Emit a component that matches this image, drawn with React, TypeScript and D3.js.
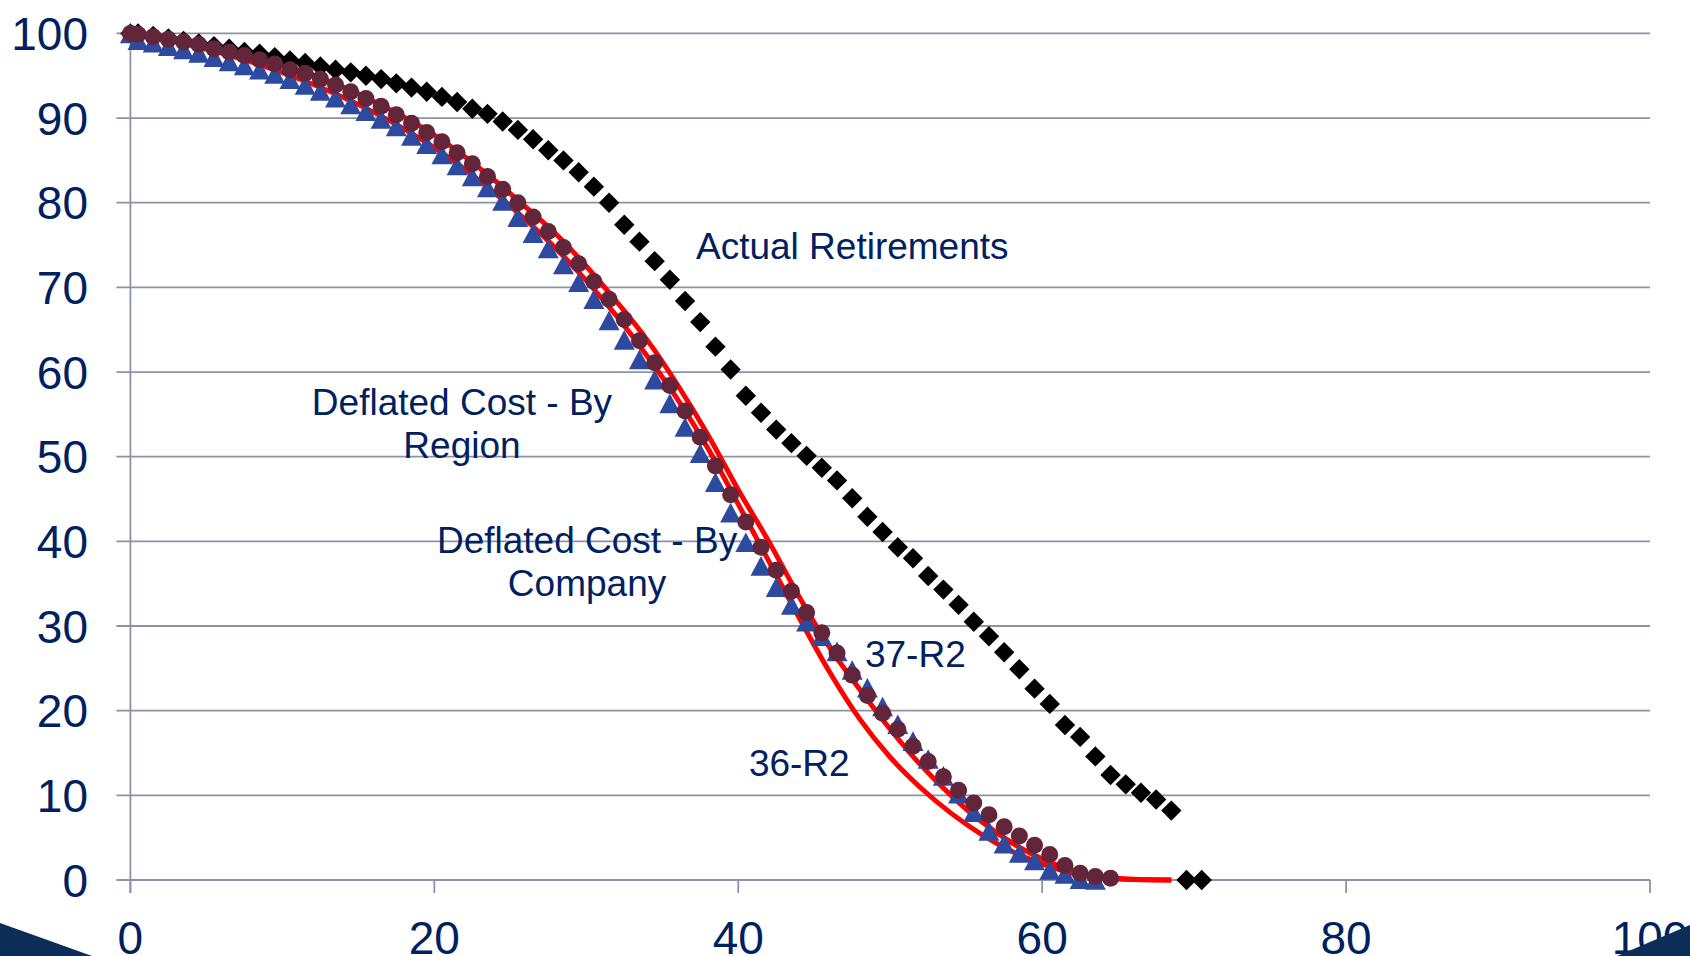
import React from "react";
import * as d3 from "d3";

const W = 1690;
const H = 956;

// Age points (years) for the marker series
const markerAges = [
  0, 0.5, 1.5, 2.5, 3.5, 4.5, 5.5, 6.5, 7.5, 8.5, 9.5, 10.5, 11.5, 12.5, 13.5, 14.5, 15.5, 16.5, 17.5, 18.5,
  19.5, 20.5, 21.5, 22.5, 23.5, 24.5, 25.5, 26.5, 27.5, 28.5, 29.5, 30.5, 31.5, 32.5, 33.5, 34.5, 35.5, 36.5,
  37.5, 38.5, 39.5, 40.5, 41.5, 42.5, 43.5, 44.5, 45.5, 46.5, 47.5, 48.5, 49.5, 50.5, 51.5, 52.5, 53.5, 54.5,
  55.5, 56.5, 57.5, 58.5, 59.5, 60.5, 61.5, 62.5, 63.5, 64.5, 65.5, 66.5, 67.5, 68.5, 69.5, 70.5,
];

// Actual Retirements (black diamonds)
const actualRetirements = [
  100, 100, 99.7, 99.4, 99.1, 98.8, 98.5, 98.2, 97.8, 97.6, 97.2, 96.8, 96.5, 96.1, 95.7, 95.4, 95.0, 94.6, 94.1,
  93.6, 93.1, 92.5, 91.9, 91.1, 90.5, 89.6, 88.6, 87.5, 86.2, 85.0, 83.6, 81.9, 80.0, 77.4, 75.4, 73.1, 70.9,
  68.4, 65.9, 63.0, 60.3, 57.2, 55.2, 53.2, 51.6, 50.1, 48.7, 47.2, 45.1, 42.9, 41.1, 39.3, 38.0, 35.9, 34.3,
  32.5, 30.5, 28.8, 26.9, 24.9, 22.6, 20.8, 18.3, 16.9, 14.6, 12.4, 11.3, 10.3, 9.5, 8.2, 0, 0,
];

// Deflated Cost - By Region (maroon circles)
const byRegion = [
  100, 99.9, 99.6, 99.3, 99.0, 98.7, 98.2, 97.8, 97.4, 96.9, 96.4, 95.7, 95.3, 94.6, 93.9, 93.1, 92.3, 91.4,
  90.4, 89.4, 88.3, 87.2, 85.9, 84.6, 83.1, 81.6, 80.0, 78.3, 76.6, 74.7, 72.8, 70.7, 68.6, 66.2, 63.7, 61.1,
  58.4, 55.4, 52.3, 48.9, 45.5, 42.3, 39.3, 36.6, 34.1, 31.6, 29.2, 26.8, 24.2, 21.8, 19.7, 17.8, 15.8, 14.0,
  12.2, 10.6, 9.1, 7.7, 6.3, 5.2, 4.1, 3.0, 1.7, 0.8, 0.4, 0.2,
];

// Deflated Cost - By Company (blue triangles)
const byCompany = [
  100, 99.2, 98.9, 98.5, 98.1, 97.7, 97.2, 96.7, 96.2, 95.7, 95.2, 94.6, 93.9, 93.2, 92.4, 91.6, 90.8, 89.9,
  89.0, 87.9, 86.9, 85.7, 84.4, 83.1, 81.8, 80.2, 78.3, 76.4, 74.6, 72.7, 70.6, 68.6, 66.1, 63.8, 61.5, 59.1,
  56.3, 53.5, 50.4, 47.0, 43.4, 39.9, 37.1, 34.6, 32.5, 30.5, 28.8, 27.0, 24.8, 22.7, 20.5, 18.4, 16.4, 14.3,
  12.3, 10.2, 8.0, 5.8, 4.3, 3.2, 2.3, 1.2, 0.7, 0.1, 0,
];

// 37-R2 Iowa curve (red line)
const r37Ages = [0, 4, 8, 12, 16, 20, 24, 26, 28, 30, 32, 34, 36, 38, 40, 42, 44, 46, 48, 50, 52, 54, 56, 58, 60, 62, 64, 66, 68.5];
const r37Vals = [100, 99.0, 97.3, 95.1, 92.0, 88.0, 82.6, 79.5, 76.3, 72.5, 68.3, 63.8, 58.5, 52.6, 46.1, 40.0, 33.5, 27.5, 22.5, 17.8, 13.6, 10.0, 6.9, 4.4, 2.5, 1.1, 0.35, 0.08, 0];

// 36-R2 Iowa curve (red line)
const r36Ages = [0, 4, 8, 12, 16, 20, 24, 26, 28, 30, 32, 34, 36, 38, 40, 42, 44, 46, 48, 50, 52, 54, 56, 58, 60, 62, 64, 66, 68.5];
const r36Vals = [100, 98.6, 96.6, 94.0, 90.7, 86.5, 81.1, 78.0, 74.6, 70.8, 66.6, 61.9, 56.8, 51.0, 44.4, 37.7, 31.0, 24.6, 19.0, 14.5, 10.9, 7.9, 5.4, 3.4, 1.9, 0.8, 0.25, 0.05, 0];

const xTicks = [0, 20, 40, 60, 80, 100];
const yTicks = [0, 10, 20, 30, 40, 50, 60, 70, 80, 90, 100];

// Annotations: text lines, anchor position in data units (baseline of first line)
const annotations = [
  { lines: ["Actual Retirements"], x: 37.22, y: 73.3, anchor: "start" },
  { lines: ["Deflated Cost - By", "Region"], x: 21.82, y: 54.96, anchor: "middle" },
  { lines: ["Deflated Cost - By", "Company"], x: 30.05, y: 38.65, anchor: "middle" },
  { lines: ["37-R2"], x: 48.34, y: 25.18, anchor: "start" },
  { lines: ["36-R2"], x: 40.7, y: 12.29, anchor: "start" },
];

const TEXT = "#002060";
const GRID = "#8e92a6";
const FONT = "'Liberation Sans', Arial, Helvetica, sans-serif";

export default function App() {
  const x = d3.scaleLinear().domain([0, 100]).range([130.4, 1650]);
  const y = d3.scaleLinear().domain([0, 100]).range([880, 33.4]);

  const line = d3
    .line<[number, number]>()
    .x((d) => x(d[0]))
    .y((d) => y(d[1]))
    .curve(d3.curveMonotoneX);

  const r37: [number, number][] = r37Ages.map((a, i) => [a, r37Vals[i]]);
  const r36: [number, number][] = r36Ages.map((a, i) => [a, r36Vals[i]]);

  const dS = 10.2; // diamond half diagonal
  const diamond = (cx: number, cy: number) =>
    `M${cx},${cy - dS}L${cx + dS},${cy}L${cx},${cy + dS}L${cx - dS},${cy}Z`;
  const tW = 10.5;
  const tH = 9.8;
  const tri = (cx: number, cy: number) =>
    `M${cx},${cy - tH}L${cx + tW},${cy + tH}L${cx - tW},${cy + tH}Z`;

  const lineH = 43;

  return (
    <svg
      width={W}
      height={H}
      style={{ position: "absolute", left: 0, top: 0, display: "block", background: "#fff" }}
      fontFamily={FONT}
    >
      <rect width={W} height={H} fill="#fff" />
      {/* gridlines */}
      {yTicks.map((t) => (
        <line key={"g" + t} x1={x(0) - 14} x2={x(100)} y1={y(t)} y2={y(t)} stroke={GRID} strokeWidth={1.8} />
      ))}
      {/* y axis */}
      <line x1={x(0)} x2={x(0)} y1={y(100)} y2={y(0) + 13} stroke={GRID} strokeWidth={1.8} />
      {xTicks.map((t) => (
        <line key={"xt" + t} x1={x(t)} x2={x(t)} y1={y(0)} y2={y(0) + 13} stroke={GRID} strokeWidth={1.8} />
      ))}
      {/* y labels */}
      {yTicks.map((t) => (
        <text key={"yl" + t} x={88} y={y(t)} dy="0.36em" textAnchor="end" fontSize={46} fill={TEXT}>
          {t}
        </text>
      ))}
      {/* x labels */}
      {xTicks.map((t) => (
        <text key={"xl" + t} x={x(t)} y={954} textAnchor="middle" fontSize={46} fill={TEXT}>
          {t}
        </text>
      ))}

      {/* Iowa curves */}
      <path d={line(r36) || ""} fill="none" stroke="#ff0000" strokeWidth={5} />
      <path d={line(r37) || ""} fill="none" stroke="#ff0000" strokeWidth={5} />

      {/* Actual retirements */}
      {actualRetirements.map((v, i) => (
        <path key={"d" + i} d={diamond(x(markerAges[i]), y(v))} fill="#000" />
      ))}
      {/* By company triangles */}
      {byCompany.map((v, i) => (
        <path key={"t" + i} d={tri(x(markerAges[i]), y(v))} fill="#2d4a9e" />
      ))}
      {/* By region circles */}
      {byRegion.map((v, i) => (
        <circle key={"c" + i} cx={x(markerAges[i])} cy={y(v)} r={8.5} fill="#632539" />
      ))}

      {/* annotations */}
      {annotations.map((a, i) => (
        <text key={"a" + i} x={x(a.x)} y={y(a.y)} textAnchor={a.anchor as any} fontSize={37} fill={TEXT}>
          {a.lines.map((l, j) => (
            <tspan key={j} x={x(a.x)} dy={j === 0 ? 0 : lineH}>
              {l}
            </tspan>
          ))}
        </text>
      ))}

      {/* decorative corner wedges */}
      <path d={`M0,923L92,956L0,956Z`} fill="#0b2d57" />
      <path d={`M1617,956L1690,925L1690,956Z`} fill="#0b2d57" />
    </svg>
  );
}
